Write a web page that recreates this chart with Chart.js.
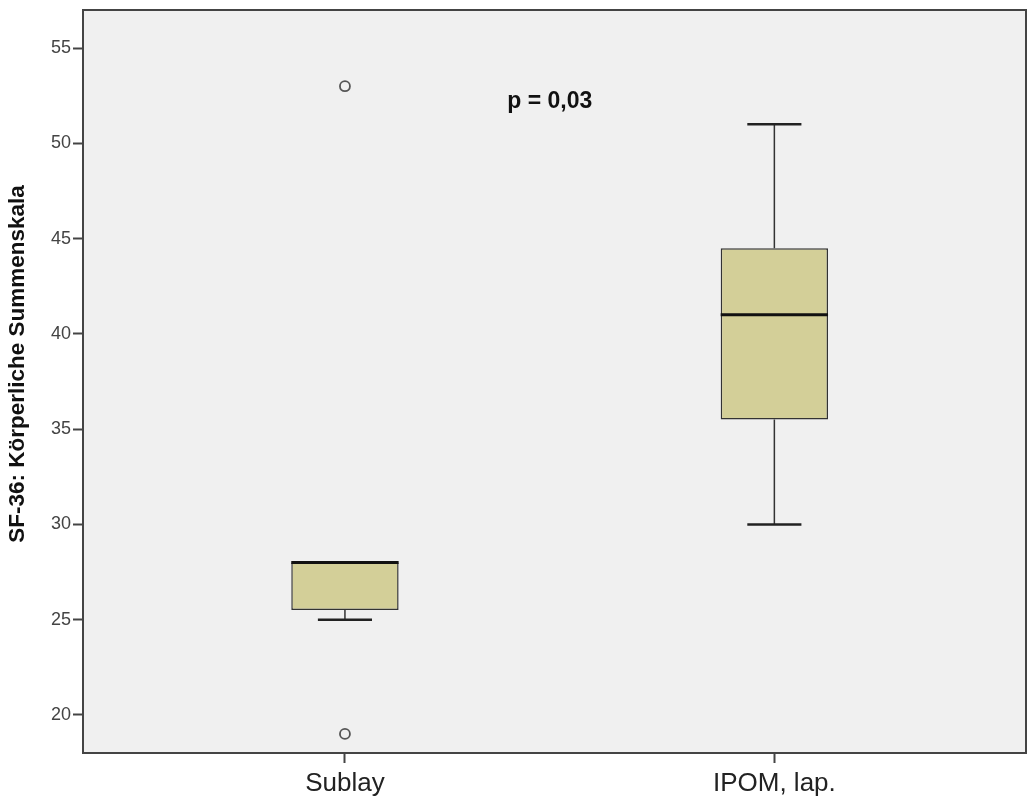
<!DOCTYPE html>
<html>
<head>
<meta charset="utf-8">
<script src="https://cdn.jsdelivr.net/npm/chart.js@4.4.0/dist/chart.umd.min.js"></script>
<style>
  html, body { margin: 0; padding: 0; background: #fff; }
  canvas { display: block; }
</style>
</head>
<body>
<canvas id="chart" width="1028" height="801"></canvas>
<script>
// box plot values per group
const categories = ['Sublay', 'IPOM, lap.'];
const q1 = [25.5, 35.5];
const median = [28, 41];
const q3 = [28, 44.5];
const whiskerLow = [25, 30];
const whiskerHigh = [28, 51];
const outliers = [[53, 19], []];
const yTicks = [20, 25, 30, 35, 40, 45, 50, 55];
const yTitle = 'SF-36: Körperliche Summenskala';
const pText = 'p = 0,03';

const FONT = '"Liberation Sans", Arial, sans-serif';
const capHalf = 0.063;
const boxHalf = 0.125;

// build line segments (separated by gaps)
const whiskerData = [];
const capData = [];
const medianData = [];
categories.forEach((c, i) => {
  if (whiskerLow[i] < q1[i]) {
    whiskerData.push({ x: i, y: whiskerLow[i] }, { x: i, y: q1[i] }, { x: i, y: null });
    capData.push({ x: i - capHalf, y: whiskerLow[i] }, { x: i + capHalf, y: whiskerLow[i] }, { x: i, y: null });
  }
  if (whiskerHigh[i] > q3[i]) {
    whiskerData.push({ x: i, y: q3[i] }, { x: i, y: whiskerHigh[i] }, { x: i, y: null });
    capData.push({ x: i - capHalf, y: whiskerHigh[i] }, { x: i + capHalf, y: whiskerHigh[i] }, { x: i, y: null });
  }
  medianData.push({ x: i - boxHalf, y: median[i] }, { x: i + boxHalf, y: median[i] }, { x: i, y: null });
});
const boxData = categories.map((c, i) => ({ x: i, y: [q1[i], q3[i]] }));
const outlierData = [];
outliers.forEach((list, i) => list.forEach(v => outlierData.push({ x: i, y: v })));

const plotFrame = {
  id: 'plotFrame',
  beforeDatasetsDraw(chart) {
    const { ctx, chartArea: a } = chart;
    ctx.save();
    ctx.fillStyle = '#f0f0f0';
    ctx.fillRect(a.left, a.top, a.right - a.left, a.bottom - a.top);
    ctx.strokeStyle = '#444';
    ctx.lineWidth = 2;
    ctx.strokeRect(a.left, a.top, a.right - a.left, a.bottom - a.top);
    ctx.restore();
  },
  afterDraw(chart) {
    const { ctx, scales } = chart;
    ctx.save();
    // p value annotation
    ctx.font = 'bold 23px ' + FONT;
    ctx.fillStyle = '#111';
    ctx.textAlign = 'left';
    ctx.textBaseline = 'middle';
    ctx.fillText(pText, scales.x.getPixelForValue(0.378), scales.y.getPixelForValue(52.2));
    // y axis title
    ctx.translate(18, 364);
    ctx.rotate(-Math.PI / 2);
    ctx.textAlign = 'center';
    ctx.font = 'bold 22.5px ' + FONT;
    ctx.fillText(yTitle, 0, 0);
    ctx.restore();
  }
};

new Chart(document.getElementById('chart'), {
  data: {
    datasets: [
      { type: 'line', data: whiskerData, borderColor: '#333', borderWidth: 1.5, pointRadius: 0, spanGaps: false, order: 3 },
      { type: 'bar', data: boxData, backgroundColor: '#d3cf98', borderColor: '#333', borderWidth: 1.5, borderSkipped: false, barPercentage: 0.25, categoryPercentage: 1, order: 2 },
      { type: 'line', data: capData, borderColor: '#222', borderWidth: 2.5, pointRadius: 0, spanGaps: false, order: 1 },
      { type: 'line', data: medianData, borderColor: '#111', borderWidth: 3, pointRadius: 0, spanGaps: false, order: 0 },
      { type: 'scatter', data: outlierData, pointRadius: 5, pointBorderWidth: 1.8, pointBorderColor: '#555', pointBackgroundColor: '#f0f0f0', order: 0 }
    ]
  },
  options: {
    responsive: false,
    animation: false,
    devicePixelRatio: 1,
    layout: { autoPadding: false, padding: { top: 10, right: 2, left: 0, bottom: 0 } },
    plugins: { legend: { display: false }, tooltip: { enabled: false } },
    scales: {
      x: {
        type: 'linear',
        min: -0.61,
        max: 1.586,
        offset: false,
        afterBuildTicks: axis => { axis.ticks = categories.map((c, i) => ({ value: i })); },
        afterFit: axis => { axis.height = 48; axis.paddingRight = 0; axis.paddingLeft = 0; },
        grid: { offset: false, drawOnChartArea: false, drawTicks: true, tickLength: 10, tickColor: '#444', tickWidth: 2 },
        border: { display: false },
        ticks: { padding: 5, maxRotation: 0, autoSkip: false, color: '#222', font: { family: FONT, size: 26 }, callback: v => categories[v] }
      },
      y: {
        min: 18,
        max: 57,
        afterBuildTicks: axis => { axis.ticks = yTicks.map(v => ({ value: v })); },
        afterFit: axis => { axis.width = 83; axis.paddingTop = 0; axis.paddingBottom = 0; },
        grid: { drawOnChartArea: false, drawTicks: true, tickLength: 10, tickColor: '#444', tickWidth: 2 },
        border: { display: false },
        ticks: { padding: 2, color: '#444', font: { family: FONT, size: 18 } }
      }
    }
  },
  plugins: [plotFrame]
});
</script>
</body>
</html>
